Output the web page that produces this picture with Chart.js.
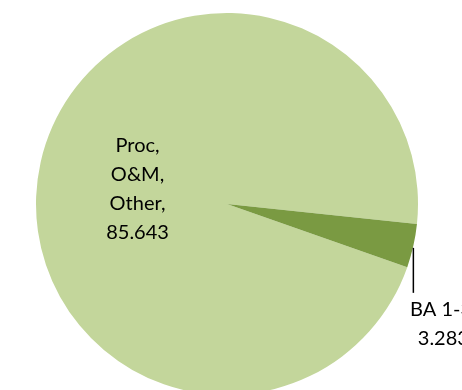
<!DOCTYPE html>
<html>
<head>
<meta charset="utf-8">
<script src="https://cdn.jsdelivr.net/npm/chart.js@4"></script>
<style>
  html, body { margin: 0; padding: 0; background: #fff; overflow: hidden; }
  #wrap { width: 462px; height: 400px; position: relative; }
</style>
</head>
<body>
<div id="wrap"><canvas id="pie"></canvas></div>
<script>
// data
const categories = ['Proc, O&M, Other', 'BA 1-3'];
const values = [85.643, 3.283];
const labelLines = [['Proc,', 'O&M,', 'Other,', '85.643'], ['BA 1-3,', '3.283']];
const sliceColors = ['#C3D69B', '#7A9A42'];

const FONT = '20px Lato, "Liberation Sans", sans-serif';

// draws the data labels the way Excel placed them
const pieLabels = {
  id: 'pieLabels',
  afterDatasetsDraw(chart) {
    const ctx = chart.ctx;
    const arcs = chart.getDatasetMeta(0).data;
    ctx.save();
    ctx.font = FONT;
    ctx.fillStyle = '#000';
    ctx.textAlign = 'center';
    ctx.textBaseline = 'middle';
    const lh = 29;

    // big slice: label inside, about halfway out
    let a = arcs[0];
    let mid = (a.startAngle + a.endAngle) / 2;
    let cx = a.x + Math.cos(mid) * a.outerRadius * 0.48;
    let cy = a.y + Math.sin(mid) * a.outerRadius * 0.48 + 5;
    let lines = labelLines[0];
    lines.forEach((t, i) => {
      ctx.fillText(t, cx, cy + (i - (lines.length - 1) / 2) * lh);
    });

    // small slice: outside with a leader line going down
    a = arcs[1];
    mid = (a.startAngle + a.endAngle) / 2;
    const ex = a.x + Math.cos(mid) * a.outerRadius;
    const ey = a.y + Math.sin(mid) * a.outerRadius;
    ctx.strokeStyle = '#000';
    ctx.lineWidth = 1.5;
    ctx.beginPath();
    ctx.moveTo(ex, ey + 2);
    ctx.lineTo(ex, ey + 47);
    ctx.stroke();
    lines = labelLines[1];
    lines.forEach((t, i) => {
      ctx.fillText(t, ex + 30, ey + 64 + i * lh);
    });
    ctx.restore();
  }
};

new Chart(document.getElementById('pie'), {
  type: 'pie',
  data: {
    labels: categories,
    datasets: [{
      data: values,
      backgroundColor: sliceColors,
      borderWidth: 0
    }]
  },
  options: {
    responsive: true,
    maintainAspectRatio: false,
    animation: false,
    rotation: 109.3,
    layout: { padding: { left: 36, right: 44, top: 13, bottom: 5 } },
    plugins: {
      legend: { display: false },
      tooltip: { enabled: false }
    }
  },
  plugins: [pieLabels]
});
</script>
</body>
</html>
